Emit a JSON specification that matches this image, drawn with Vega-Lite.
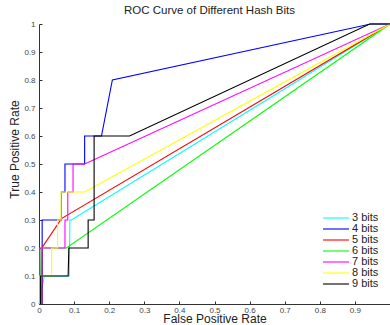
{
  "$schema": "https://vega.github.io/schema/vega-lite/v6.json",
  "width": 351,
  "height": 280,
  "autosize": {"type": "none"},
  "padding": {"left": 39, "top": 24, "right": 0, "bottom": 21},
  "background": "white",
  "config": {
    "view": {"stroke": null},
    "font": "Liberation Sans"
  },
  "title": {
    "text": "ROC Curve of Different Hash Bits",
    "fontSize": 11.5,
    "fontWeight": "normal",
    "color": "#222222",
    "offset": 4,
    "dx": -5
  },
  "data": {
    "values": [
      {"s": "3 bits", "i": 0, "fpr": 0, "tpr": 0},
      {"s": "3 bits", "i": 1, "fpr": 0.015, "tpr": 0.1},
      {"s": "3 bits", "i": 2, "fpr": 0.086, "tpr": 0.1},
      {"s": "3 bits", "i": 3, "fpr": 0.088, "tpr": 0.3},
      {"s": "3 bits", "i": 4, "fpr": 0.092, "tpr": 0.3},
      {"s": "3 bits", "i": 5, "fpr": 1, "tpr": 1},

      {"s": "4 bits", "i": 0, "fpr": 0.009, "tpr": 0},
      {"s": "4 bits", "i": 1, "fpr": 0.009, "tpr": 0.3},
      {"s": "4 bits", "i": 2, "fpr": 0.064, "tpr": 0.3},
      {"s": "4 bits", "i": 3, "fpr": 0.064, "tpr": 0.4},
      {"s": "4 bits", "i": 4, "fpr": 0.074, "tpr": 0.4},
      {"s": "4 bits", "i": 5, "fpr": 0.074, "tpr": 0.5},
      {"s": "4 bits", "i": 6, "fpr": 0.13, "tpr": 0.5},
      {"s": "4 bits", "i": 7, "fpr": 0.13, "tpr": 0.6},
      {"s": "4 bits", "i": 8, "fpr": 0.178, "tpr": 0.6},
      {"s": "4 bits", "i": 9, "fpr": 0.209, "tpr": 0.8},
      {"s": "4 bits", "i": 10, "fpr": 0.945, "tpr": 1},
      {"s": "4 bits", "i": 11, "fpr": 1, "tpr": 1},

      {"s": "5 bits", "i": 0, "fpr": 0.008, "tpr": 0},
      {"s": "5 bits", "i": 1, "fpr": 0.008, "tpr": 0.2},
      {"s": "5 bits", "i": 2, "fpr": 0.064, "tpr": 0.305},
      {"s": "5 bits", "i": 3, "fpr": 1, "tpr": 1},

      {"s": "6 bits", "i": 0, "fpr": 0.004, "tpr": 0},
      {"s": "6 bits", "i": 1, "fpr": 0.006, "tpr": 0.2},
      {"s": "6 bits", "i": 2, "fpr": 0.078, "tpr": 0.2},
      {"s": "6 bits", "i": 3, "fpr": 1, "tpr": 1},

      {"s": "7 bits", "i": 0, "fpr": 0.002, "tpr": 0},
      {"s": "7 bits", "i": 1, "fpr": 0.002, "tpr": 0.2},
      {"s": "7 bits", "i": 2, "fpr": 0.074, "tpr": 0.2},
      {"s": "7 bits", "i": 3, "fpr": 0.074, "tpr": 0.3},
      {"s": "7 bits", "i": 4, "fpr": 0.082, "tpr": 0.3},
      {"s": "7 bits", "i": 5, "fpr": 0.082, "tpr": 0.4},
      {"s": "7 bits", "i": 6, "fpr": 0.097, "tpr": 0.4},
      {"s": "7 bits", "i": 7, "fpr": 0.097, "tpr": 0.5},
      {"s": "7 bits", "i": 8, "fpr": 0.13, "tpr": 0.5},
      {"s": "7 bits", "i": 9, "fpr": 1, "tpr": 1},

      {"s": "8 bits", "i": 0, "fpr": 0.002, "tpr": 0},
      {"s": "8 bits", "i": 1, "fpr": 0.002, "tpr": 0.1},
      {"s": "8 bits", "i": 2, "fpr": 0.036, "tpr": 0.1},
      {"s": "8 bits", "i": 3, "fpr": 0.036, "tpr": 0.2},
      {"s": "8 bits", "i": 4, "fpr": 0.053, "tpr": 0.2},
      {"s": "8 bits", "i": 5, "fpr": 0.053, "tpr": 0.3},
      {"s": "8 bits", "i": 6, "fpr": 0.063, "tpr": 0.3},
      {"s": "8 bits", "i": 7, "fpr": 0.063, "tpr": 0.4},
      {"s": "8 bits", "i": 8, "fpr": 0.13, "tpr": 0.4},
      {"s": "8 bits", "i": 9, "fpr": 1, "tpr": 1},

      {"s": "9 bits", "i": 0, "fpr": 0.004, "tpr": 0},
      {"s": "9 bits", "i": 1, "fpr": 0.004, "tpr": 0.1},
      {"s": "9 bits", "i": 2, "fpr": 0.083, "tpr": 0.1},
      {"s": "9 bits", "i": 3, "fpr": 0.085, "tpr": 0.2},
      {"s": "9 bits", "i": 4, "fpr": 0.14, "tpr": 0.2},
      {"s": "9 bits", "i": 5, "fpr": 0.14, "tpr": 0.3},
      {"s": "9 bits", "i": 6, "fpr": 0.157, "tpr": 0.3},
      {"s": "9 bits", "i": 7, "fpr": 0.157, "tpr": 0.6},
      {"s": "9 bits", "i": 8, "fpr": 0.258, "tpr": 0.6},
      {"s": "9 bits", "i": 9, "fpr": 0.942, "tpr": 1},
      {"s": "9 bits", "i": 10, "fpr": 1, "tpr": 1}
    ]
  },
  "mark": {"type": "line", "strokeWidth": 1.1, "clip": false},
  "encoding": {
    "x": {
      "field": "fpr", "type": "quantitative",
      "scale": {"domain": [0, 1], "nice": false, "zero": false},
      "axis": {
        "values": [0, 0.1, 0.2, 0.3, 0.4, 0.5, 0.6, 0.7, 0.8, 0.9],
        "format": ".1~f",
        "grid": false,
        "title": "False Positive Rate",
        "titleFontSize": 12,
        "titleFontWeight": "normal",
        "titleColor": "#222222",
        "titleBaseline": "alphabetic",
        "titleY": 18,
        "labelFontSize": 8,
        "labelColor": "#444444",
        "labelPadding": 5,
        "tickSize": -3,
        "tickColor": "#333333",
        "domainColor": "#333333",
        "labelFlush": false
      }
    },
    "y": {
      "field": "tpr", "type": "quantitative",
      "scale": {"domain": [0, 1], "nice": false, "zero": false},
      "axis": {
        "values": [0, 0.1, 0.2, 0.3, 0.4, 0.5, 0.6, 0.7, 0.8, 0.9, 1],
        "format": ".1~f",
        "grid": false,
        "title": "True Positive Rate",
        "titleFontSize": 12,
        "titleFontWeight": "normal",
        "titleColor": "#222222",
        "titleAngle": -90,
        "titleAlign": "center",
        "titleBaseline": "alphabetic",
        "titleX": -21,
        "titleY": 125,
        "labelFontSize": 8,
        "labelColor": "#444444",
        "labelPadding": 7,
        "tickSize": -3,
        "tickColor": "#333333",
        "domainColor": "#333333",
        "labelFlush": false
      }
    },
    "color": {
      "field": "s", "type": "nominal",
      "scale": {
        "domain": ["3 bits", "4 bits", "5 bits", "6 bits", "7 bits", "8 bits", "9 bits"],
        "range": ["#00FFFF", "#0000FF", "#FF0000", "#00FF00", "#FF00FF", "#FFFF00", "#000000"]
      },
      "legend": {
        "title": null,
        "orient": "none",
        "legendX": 291,
        "legendY": 188,
        "symbolType": "M-2.6,0H2.6",
        "symbolSize": 100,
        "symbolStrokeWidth": 1.1,
        "symbolFillColor": "transparent",
        "labelFontSize": 11,
        "labelColor": "#222222",
        "labelOffset": 10,
        "rowPadding": 0,
        "padding": 0
      }
    },
    "order": {"field": "i", "type": "quantitative"}
  }
}
